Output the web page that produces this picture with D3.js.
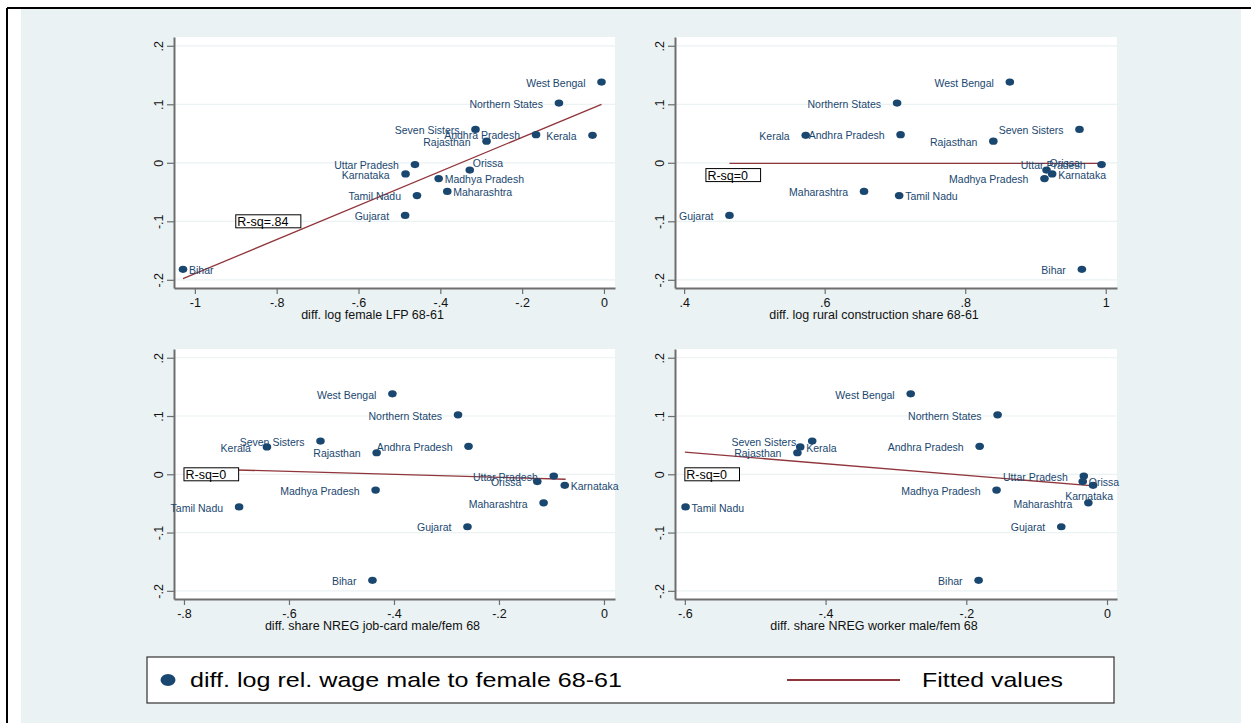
<!DOCTYPE html>
<html>
<head>
<meta charset="utf-8">
<script src="https://cdn.jsdelivr.net/npm/d3@7"></script>
<style>
  html, body { margin: 0; padding: 0; background: #ffffff; }
  svg { display: block; font-family: "Liberation Sans", Arial, Helvetica, sans-serif; }
</style>
</head>
<body>
<svg id="chart" width="1251" height="723"></svg>
<script>
// ---------------- DATA ----------------
const states = ["West Bengal", "Northern States", "Seven Sisters", "Andhra Pradesh", "Rajasthan",
  "Kerala", "Uttar Pradesh", "Orissa", "Karnataka", "Madhya Pradesh", "Tamil Nadu",
  "Maharashtra", "Gujarat", "Bihar"];

// y: diff. log rel. wage male to female 68-61
const wageDiff = [0.138, 0.102, 0.057, 0.048, 0.037, 0.047, -0.003, -0.0125, -0.019, -0.027,
  -0.056, -0.049, -0.090, -0.182];

// x variables
const femaleLFP = [-0.006, -0.110, -0.314, -0.166, -0.287, -0.028, -0.462, -0.328, -0.485, -0.404,
  -0.457, -0.383, -0.486, -1.029];
const constructionShare = [0.8635, 0.703, 0.9626, 0.708, 0.840, 0.573, 0.994, 0.9157, 0.9237, 0.9128,
  0.706, 0.656, 0.4645, 0.966];
const jobCardShare = [-0.403, -0.278, -0.540, -0.258, -0.433, -0.642, -0.0957, -0.127, -0.0747, -0.435,
  -0.695, -0.115, -0.260, -0.441];
const workerShare = [-0.279, -0.1555, -0.419, -0.181, -0.440, -0.436, -0.033, -0.0345, -0.0198, -0.157,
  -0.599, -0.0265, -0.065, -0.1825];

// fitted lines (end points)
const fit1X = [-1.029, -0.006], fit1Y = [-0.198, 0.100];
const fit2X = [0.4645, 0.994], fit2Y = [-0.001, -0.001];
const fit3X = [-0.699, -0.073], fit3Y = [0.0074, -0.0085];
const fit4X = [-0.600, -0.019], fit4Y = [0.038, -0.020];

const rsqLabels = ["R-sq=.84", "R-sq=0", "R-sq=0", "R-sq=0"];
const rsqAtX = [-0.9, 0.431, -0.8, -0.6];
const rsqAtY = [-0.1, -0.021, 0, 0];

const xTitles = ["diff. log female LFP 68-61", "diff. log rural construction share 68-61",
  "diff. share NREG job-card male/fem 68", "diff. share NREG worker male/fem 68"];

const xTicks1 = [-1, -0.8, -0.6, -0.4, -0.2, 0];
const xTicks2 = [0.4, 0.6, 0.8, 1];
const xTicks3 = [-0.8, -0.6, -0.4, -0.2, 0];
const xTicks4 = [-0.6, -0.4, -0.2, 0];
const yTicks = [-0.2, -0.1, 0, 0.1, 0.2];

// marker-label clock positions (Stata style)
const labPos1 = [9, 9, 9, 9, 9, 9, 9, 1, 9, 3, 9, 3, 9, 3];
const labPos2 = [9, 9, 9, 9, 9, 9, 9, 1, 3, 9, 3, 9, 9, 9];
const labPos3 = [9, 9, 9, 9, 9, 9, 9, 9, 3, 9, 9, 9, 9, 9];
const labPos4 = [9, 9, 9, 9, 9, 3, 9, 3, 6, 9, 3, 9, 9, 9];

const legendLabels = ["diff. log rel. wage male to female 68-61", "Fitted values"];

// ---------------- STYLE ----------------
const C = {
  region: "#eaf2f3",
  marker: "#1a476f",
  fit: "#90353b",
  axis: "#6e6e6e",
  grid: "#eaf2f3",
  text: "#111111"
};

const svg = d3.select("#chart");
svg.append("rect").attr("x", 0).attr("y", 0).attr("width", 1251).attr("height", 723).attr("fill", "#ffffff");
svg.append("rect").attr("x", 21).attr("y", 9).attr("width", 1220).attr("height", 714).attr("fill", C.region);
svg.append("line").attr("x1", 7).attr("x2", 1251).attr("y1", 8).attr("y2", 8).attr("stroke", "#000").attr("stroke-width", 2);
svg.append("line").attr("x1", 7).attr("x2", 7).attr("y1", 8).attr("y2", 723).attr("stroke", "#000").attr("stroke-width", 2);

const cols = [{ l: 174, r: 615 }, { l: 675, r: 1117 }];
const rows = [{ t: 37, b: 288 }, { t: 349, b: 599 }];
const yDomain = [-0.214, 0.215];

const panels = [
  { c: 0, r: 0, xs: femaleLFP, dom: [-1.051, 0.027], ticks: xTicks1, fx: fit1X, fy: fit1Y, lp: labPos1 },
  { c: 1, r: 0, xs: constructionShare, dom: [0.387, 1.016], ticks: xTicks2, fx: fit2X, fy: fit2Y, lp: labPos2 },
  { c: 0, r: 1, xs: jobCardShare, dom: [-0.819, 0.021], ticks: xTicks3, fx: fit3X, fy: fit3Y, lp: labPos3 },
  { c: 1, r: 1, xs: workerShare, dom: [-0.614, 0.0142], ticks: xTicks4, fx: fit4X, fy: fit4Y, lp: labPos4 }
];

const fmt = d => {
  if (d === 0) return "0";
  const s = String(Math.abs(+d.toFixed(3))).replace(/^0\./, ".");
  return (d < 0 ? "-" : "") + s;
};

panels.forEach((p, i) => {
  const col = cols[p.c], row = rows[p.r];
  const x = d3.scaleLinear().domain(p.dom).range([col.l, col.r]);
  const y = d3.scaleLinear().domain(yDomain).range([row.b, row.t]);
  const g = svg.append("g");

  // plot region
  g.append("rect").attr("x", col.l).attr("y", row.t).attr("width", col.r - col.l).attr("height", row.b - row.t).attr("fill", "#ffffff");

  // grid
  g.selectAll(".grid").data(yTicks).join("line")
    .attr("x1", col.l).attr("x2", col.r)
    .attr("y1", d => y(d)).attr("y2", d => y(d))
    .attr("stroke", C.grid).attr("stroke-width", 1.2);

  // x axis
  const xa = g.append("g").attr("transform", `translate(0,${row.b})`)
    .call(d3.axisBottom(x).tickValues(p.ticks).tickFormat(fmt).tickSize(6).tickSizeOuter(0));
  xa.select(".domain").attr("stroke", C.axis).attr("stroke-width", 2);
  xa.selectAll(".tick line").attr("stroke", C.axis).attr("stroke-width", 1.2);
  xa.selectAll(".tick text").attr("font-size", 12.5).attr("fill", C.text)
    .attr("font-family", "Liberation Sans, Arial, sans-serif").attr("y", 18.5).attr("dy", 0);

  // y axis
  const ya = g.append("g").attr("transform", `translate(${col.l},0)`)
    .call(d3.axisLeft(y).tickValues(yTicks).tickFormat(fmt).tickSize(7).tickSizeOuter(0));
  ya.select(".domain").attr("stroke", C.axis).attr("stroke-width", 2);
  ya.selectAll(".tick line").attr("stroke", C.axis).attr("stroke-width", 1.2);
  ya.selectAll(".tick text").attr("font-size", 12.5).attr("fill", C.text)
    .attr("font-family", "Liberation Sans, Arial, sans-serif")
    .attr("transform", "rotate(-90)").attr("x", 0).attr("y", -11).attr("dy", 0)
    .attr("text-anchor", "middle");

  // axis title
  g.append("text").attr("x", (col.l + col.r) / 2 - 22).attr("y", row.b + 31)
    .attr("text-anchor", "middle").attr("font-size", 12.5).attr("fill", C.text)
    .text(xTitles[i]);

  // fitted line
  g.append("path")
    .datum(d3.zip(p.fx, p.fy))
    .attr("d", d3.line().x(d => x(d[0])).y(d => y(d[1])))
    .attr("fill", "none").attr("stroke", C.fit).attr("stroke-width", 1.3);

  // points
  const pts = states.map((s, k) => ({ s, xv: p.xs[k], yv: wageDiff[k], pos: p.lp[k] }));
  g.selectAll(".pt").data(pts).join("ellipse")
    .attr("cx", d => x(d.xv)).attr("cy", d => y(d.yv))
    .attr("rx", 4.3).attr("ry", 3.6).attr("fill", C.marker);

  // labels
  g.selectAll(".lab").data(pts).join("text")
    .attr("font-size", 10.5).attr("fill", C.marker)
    .attr("x", d => {
      const cx = x(d.xv);
      if (d.pos === 9) return cx - 16;
      if (d.pos === 3) return cx + 6;
      if (d.pos === 1) return cx + 3;
      return cx - 4;
    })
    .attr("y", d => {
      const cy = y(d.yv);
      if (d.pos === 1) return cy - 7;
      if (d.pos === 6) return cy + 11;
      return cy + 1;
    })
    .attr("dy", "0.35em")
    .attr("text-anchor", d => d.pos === 9 ? "end" : (d.pos === 6 ? "middle" : "start"))
    .text(d => d.s);

  // R-sq box
  const bx = x(rsqAtX[i]), by = y(rsqAtY[i]);
  const box = g.append("rect");
  const t = g.append("text").attr("x", bx + 1.5).attr("y", by).attr("dy", "0.36em")
    .attr("font-size", 12.5).attr("fill", "#000").text(rsqLabels[i]);
  const tw = t.node().getComputedTextLength();
  box.attr("x", bx).attr("y", by - 6.5).attr("width", tw + 14).attr("height", 13)
    .attr("fill", "#ffffff").attr("stroke", "#000").attr("stroke-width", 1);
});

// ---------------- LEGEND ----------------
const lg = svg.append("g");
lg.append("rect").attr("x", 147).attr("y", 657).attr("width", 967).attr("height", 46)
  .attr("fill", "#ffffff").attr("stroke", "#333").attr("stroke-width", 1.2);
lg.append("ellipse").attr("cx", 168).attr("cy", 680).attr("rx", 7.5).attr("ry", 6).attr("fill", C.marker);
const lt1 = lg.append("text").attr("x", 190).attr("y", 680).attr("dy", "0.35em")
  .attr("font-size", 21).attr("fill", "#000").text(legendLabels[0]);
lg.append("line").attr("x1", 787).attr("x2", 900).attr("y1", 680).attr("y2", 680)
  .attr("stroke", C.fit).attr("stroke-width", 2);
const lt2 = lg.append("text").attr("x", 922).attr("y", 680).attr("dy", "0.35em")
  .attr("font-size", 21).attr("fill", "#000").text(legendLabels[1]);
lt1.attr("textLength", 432).attr("lengthAdjust", "spacingAndGlyphs");
lt2.attr("textLength", 141).attr("lengthAdjust", "spacingAndGlyphs");
</script>
</body>
</html>
